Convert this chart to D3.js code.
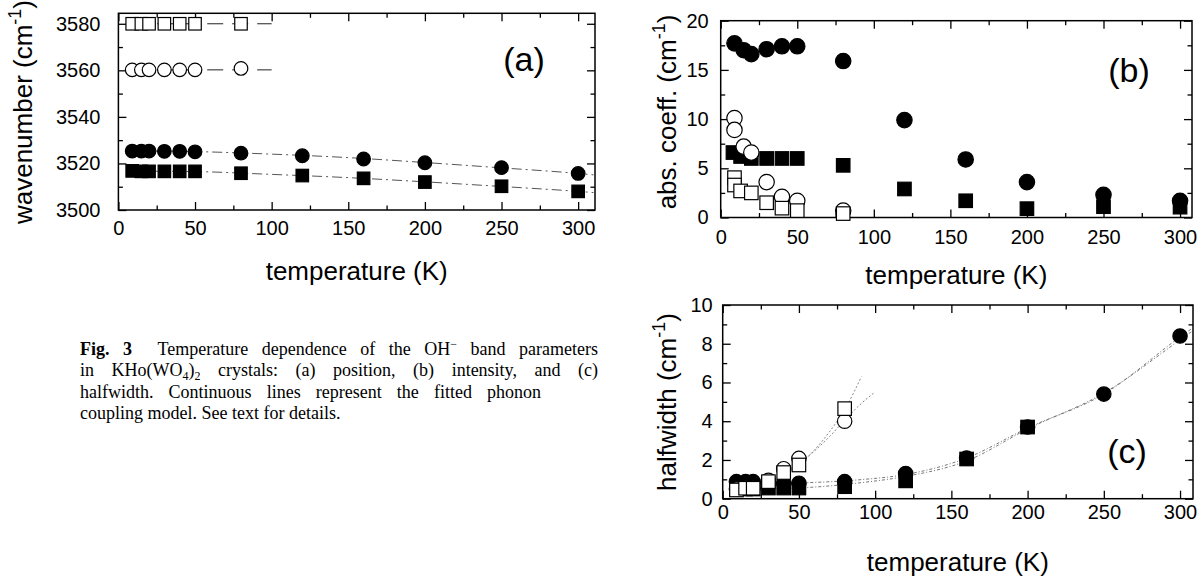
<!DOCTYPE html>
<html><head><meta charset="utf-8">
<script src="https://cdn.jsdelivr.net/npm/d3@7"></script>
<style>
body{margin:0;background:#fff}
svg{display:block}
text{font-family:"Liberation Sans",Arial,sans-serif;fill:#000}
</style>
</head><body>
<svg id="chart" width="1201" height="577"></svg>
<script>
// ---------------- DATA ----------------
const xMajorTicks = [0, 50, 100, 150, 200, 250, 300];
const xMinorTicks = [25, 75, 125, 175, 225, 275];

const aYMajorTicks = [3500, 3520, 3540, 3560, 3580];
const aYMinorTicks = [3510, 3530, 3550, 3570];
const bYMajorTicks = [0, 5, 10, 15, 20];
const bYMinorTicks = [2.5, 7.5, 12.5, 17.5];
const cYMajorTicks = [0, 2, 4, 6, 8, 10];
const cYMinorTicks = [1, 3, 5, 7, 9];

// (a) band position (cm^-1)
const aOpenT = [9, 15, 20, 30, 40, 50, 80];
const aOpenSquare = [3580, 3580, 3580, 3580, 3580, 3580, 3580];
const aOpenCircle = [3560.2, 3560.2, 3560.2, 3560.2, 3560.2, 3560.2, 3560.8];
const aFullT = [9, 15, 20, 30, 40, 50, 80, 120, 160, 200, 250, 300];
const aFullCircle = [3525.3, 3525.3, 3525.3, 3525.2, 3525.2, 3525.0, 3524.4, 3523.3, 3521.9, 3520.3, 3518.2, 3515.7];
const aFullSquare = [3516.8, 3516.6, 3516.6, 3516.6, 3516.6, 3516.6, 3515.8, 3514.8, 3513.6, 3512.0, 3510.2, 3508.0];
// (a) fitted lines
const aFitLowT = [9, 100];
const aFitOpenSquare = [3580, 3580];
const aFitOpenCircle = [3560.2, 3560.2];
const aFitHighT = [9, 50, 100, 150, 200, 250, 300, 310];
const aFitCircle = [3525.4, 3525.1, 3524.0, 3522.5, 3520.4, 3518.1, 3515.7, 3515.1];
const aFitSquare = [3516.7, 3516.5, 3515.3, 3513.9, 3512.1, 3510.1, 3508.0, 3507.5];

// (b) absorption coefficient (cm^-1)
const bFullCircleT = [9, 15, 20, 30, 40, 50, 80, 120, 160, 200, 250, 300];
const bFullCircle = [17.7, 17.0, 16.6, 17.1, 17.4, 17.4, 15.9, 9.9, 5.9, 3.6, 2.3, 1.7];
const bFullSquareT = [8, 13, 20, 30, 40, 50, 80, 120, 160, 200, 250, 300];
const bFullSquare = [6.6, 6.2, 6.0, 6.0, 6.0, 6.0, 5.3, 2.9, 1.7, 0.9, 1.1, 1.05];
const bOpenCircleT = [9, 9, 15, 20, 30, 40, 50, 80];
const bOpenCircle = [10.1, 8.9, 7.2, 6.6, 3.6, 2.1, 1.7, 0.7];
const bOpenSquareT = [9, 9, 13, 20, 30, 40, 50, 80];
const bOpenSquare = [4.05, 3.3, 2.7, 2.5, 1.5, 0.95, 0.7, 0.4];

// (c) halfwidth (cm^-1)
const cFullCircleT = [9, 15, 20, 30, 40, 50, 80, 120, 160, 200, 250, 300];
const cFullCircle = [0.88, 0.88, 0.88, 0.75, 0.8, 0.8, 0.88, 1.3, 2.1, 3.7, 5.4, 8.4];
const cFullSquareT = [9, 15, 20, 30, 40, 50, 80, 120, 160, 200];
const cFullSquare = [0.5, 0.5, 0.5, 0.55, 0.55, 0.55, 0.62, 0.92, 2.05, 3.7];
const cOpenT = [9, 15, 20, 30, 40, 50, 80];
const cOpenCircle = [0.5, 0.55, 0.55, 0.95, 1.55, 2.08, 4.0];
const cOpenSquare = [0.45, 0.54, 0.54, 0.88, 1.35, 1.74, 4.65];
// (c) fitted lines
const cFitFullT = [5, 30, 60, 90, 120, 160, 200, 250, 300, 308];
const cFitCircle = [0.78, 0.79, 0.84, 0.98, 1.25, 2.1, 3.65, 5.4, 8.35, 8.8];
const cFitSquare = [0.5, 0.52, 0.6, 0.82, 1.15, 1.95, 3.6, 5.45, 8.2, 8.65];
const cFitOpenSquareT = [5, 20, 30, 40, 50, 60, 70, 80, 91];
const cFitOpenSquare = [0.42, 0.5, 0.7, 1.15, 1.75, 2.5, 3.45, 4.6, 6.3];
const cFitOpenCircleT = [5, 20, 30, 40, 50, 60, 70, 80, 90, 99];
const cFitOpenCircle = [0.48, 0.55, 0.78, 1.25, 1.8, 2.45, 3.2, 4.05, 4.85, 5.45];

// caption (* = bold, ^x = superscript, _x = subscript)
const captionLines = [
  ["*Fig.", "*3", "Temperature", "dependence", "of", "the", "OH^−", "band", "parameters"],
  ["in", "KHo(WO_4)_2", "crystals:", "(a)", "position,", "(b)", "intensity,", "and", "(c)"],
  ["halfwidth.", "Continuous", "lines", "represent", "the", "fitted", "phonon"],
  ["coupling", "model.", "See", "text", "for", "details."]
];
const captionLineEnd = [598, 598, 541, null];

// ---------------- DRAWING ----------------
const svg = d3.select("#chart");
const zip = (xs, ys) => xs.map((x, i) => [x, ys[i]]);

function drawPanel(cfg) {
  const g = svg.append("g");
  const x = d3.scaleLinear().domain(cfg.xDomain).range([cfg.left, cfg.right]);
  const y = d3.scaleLinear().domain(cfg.yDomain).range([cfg.bottom, cfg.top]);
  const tickFont = g => g.selectAll("text").style("font-size", "20px").style("font-family", '"Liberation Sans",Arial,sans-serif').attr("fill", "#000");
  const clean = s => { s.select(".domain").remove(); s.selectAll("line").attr("stroke", "#000").attr("stroke-width", 1.3); };

  g.append("g").attr("transform", `translate(0,${cfg.bottom})`)
    .call(d3.axisBottom(x).tickValues(xMajorTicks).tickSize(-8).tickPadding(cfg.xPad).tickFormat(d3.format("d")))
    .call(clean).call(tickFont);
  g.append("g").attr("transform", `translate(0,${cfg.bottom})`)
    .call(d3.axisBottom(x).tickValues(xMinorTicks).tickSize(-4.5).tickFormat("")).call(clean);
  g.append("g").attr("transform", `translate(0,${cfg.top})`)
    .call(d3.axisTop(x).tickValues(xMajorTicks).tickSize(-8).tickFormat("")).call(clean);
  g.append("g").attr("transform", `translate(0,${cfg.top})`)
    .call(d3.axisTop(x).tickValues(xMinorTicks).tickSize(-4.5).tickFormat("")).call(clean);
  g.append("g").attr("transform", `translate(${cfg.left},0)`)
    .call(d3.axisLeft(y).tickValues(cfg.yMajor).tickSize(-8).tickPadding(cfg.yPad).tickFormat(d3.format("d")))
    .call(clean).call(tickFont);
  g.append("g").attr("transform", `translate(${cfg.left},0)`)
    .call(d3.axisLeft(y).tickValues(cfg.yMinor).tickSize(-4.5).tickFormat("")).call(clean);
  g.append("g").attr("transform", `translate(${cfg.right},0)`)
    .call(d3.axisRight(y).tickValues(cfg.yMajor).tickSize(-8).tickFormat("")).call(clean);
  g.append("g").attr("transform", `translate(${cfg.right},0)`)
    .call(d3.axisRight(y).tickValues(cfg.yMinor).tickSize(-4.5).tickFormat("")).call(clean);

  g.append("rect").attr("x", cfg.left).attr("y", cfg.top)
    .attr("width", cfg.right - cfg.left).attr("height", cfg.bottom - cfg.top)
    .attr("fill", "none").attr("stroke", "#000").attr("stroke-width", 1.5);

  const line = d3.line().x(d => x(d[0])).y(d => y(d[1])).curve(d3.curveMonotoneX);
  (cfg.fits || []).forEach(f => {
    g.append("path").attr("d", line(zip(f.t, f.v)))
      .attr("fill", "none").attr("stroke", f.color).attr("stroke-width", f.width || 1)
      .attr("stroke-dasharray", f.dash);
  });

  (cfg.series || []).forEach(s => {
    const pts = zip(s.t, s.v);
    const fill = s.filled ? "#000" : "#fff";
    if (s.shape === "circle") {
      g.append("g").selectAll("circle").data(pts).join("circle")
        .attr("cx", d => x(d[0])).attr("cy", d => y(d[1])).attr("r", cfg.r)
        .attr("fill", fill).attr("stroke", "#000").attr("stroke-width", 1.2);
    } else {
      const a = cfg.sq;
      g.append("g").selectAll("rect").data(pts).join("rect")
        .attr("x", d => x(d[0]) - a / 2).attr("y", d => y(d[1]) - a / 2)
        .attr("width", a).attr("height", a)
        .attr("fill", fill).attr("stroke", "#000").attr("stroke-width", 1.2);
    }
  });

  g.append("text").attr("x", (cfg.left + cfg.right) / 2).attr("y", cfg.xTitleY)
    .attr("text-anchor", "middle").style("font-size", "26px").text("temperature (K)");
  const yt = g.append("text")
    .attr("transform", `translate(${cfg.yTitleX},${cfg.yTitleY}) rotate(-90)`)
    .attr("text-anchor", "middle").style("font-size", "26px");
  yt.append("tspan").text(cfg.yTitle + " (cm");
  yt.append("tspan").attr("dy", -11).style("font-size", "18px").text("-1");
  yt.append("tspan").attr("dy", 11).text(")");

  g.append("text").attr("x", cfg.labelX).attr("y", cfg.labelY)
    .attr("text-anchor", "middle").style("font-size", "34px").text(cfg.label);
}

drawPanel({
  left: 118.4, right: 595, top: 13.3, bottom: 210,
  xDomain: [0, 311], yDomain: [3500, 3584.5],
  yMajor: aYMajorTicks, yMinor: aYMinorTicks, xPad: 11, yPad: 18,
  r: 6.8, sq: 12.5,
  xTitleY: 280, yTitleX: 32, yTitleY: 112, yTitle: "wavenumber",
  label: "(a)", labelX: 524, labelY: 71,
  fits: [
    { t: aFitLowT, v: aFitOpenSquare, color: "#222", dash: "16,9" },
    { t: aFitLowT, v: aFitOpenCircle, color: "#222", dash: "16,9" },
    { t: aFitHighT, v: aFitCircle, color: "#555", dash: "10,4,2,4" },
    { t: aFitHighT, v: aFitSquare, color: "#555", dash: "10,4,2,4" }
  ],
  series: [
    { t: aFullT, v: aFullCircle, shape: "circle", filled: true },
    { t: aFullT, v: aFullSquare, shape: "square", filled: true },
    { t: aOpenT, v: aOpenCircle, shape: "circle", filled: false },
    { t: aOpenT, v: aOpenSquare, shape: "square", filled: false }
  ]
});

drawPanel({
  left: 720.7, right: 1192, top: 20.7, bottom: 217.5,
  xDomain: [0, 307.8], yDomain: [0, 20],
  yMajor: bYMajorTicks, yMinor: bYMinorTicks, xPad: 12, yPad: 12,
  r: 7.7, sq: 13.5,
  xTitleY: 284, yTitleX: 676, yTitleY: 112, yTitle: "abs. coeff.",
  label: "(b)", labelX: 1129, labelY: 82,
  series: [
    { t: bFullSquareT, v: bFullSquare, shape: "square", filled: true },
    { t: bFullCircleT, v: bFullCircle, shape: "circle", filled: true },
    { t: bOpenCircleT, v: bOpenCircle, shape: "circle", filled: false },
    { t: bOpenSquareT, v: bOpenSquare, shape: "square", filled: false }
  ]
});

drawPanel({
  left: 722.7, right: 1193, top: 305, bottom: 498.7,
  xDomain: [0, 308.5], yDomain: [0, 10],
  yMajor: cYMajorTicks, yMinor: cYMinorTicks, xPad: 6, yPad: 10,
  r: 7.2, sq: 13.5,
  xTitleY: 571, yTitleX: 676, yTitleY: 402, yTitle: "halfwidth",
  label: "(c)", labelX: 1127, labelY: 463,
  fits: [
    { t: cFitFullT, v: cFitCircle, color: "#777", dash: "3,2,1,2" },
    { t: cFitFullT, v: cFitSquare, color: "#777", dash: "3,2,1,2" },
    { t: cFitOpenSquareT, v: cFitOpenSquare, color: "#888", dash: "2,2" },
    { t: cFitOpenCircleT, v: cFitOpenCircle, color: "#888", dash: "2,2" }
  ],
  series: [
    { t: cFullCircleT, v: cFullCircle, shape: "circle", filled: true },
    { t: cFullSquareT, v: cFullSquare, shape: "square", filled: true },
    { t: cOpenT, v: cOpenCircle, shape: "circle", filled: false },
    { t: cOpenT, v: cOpenSquare, shape: "square", filled: false }
  ]
});

// caption
(function caption() {
  const cg = svg.append("g");
  const left = 80, y0 = 355, lh = 21.3;
  captionLines.forEach((words, li) => {
    const nodes = words.map(w => {
      const bold = w.startsWith("*");
      const str = bold ? w.slice(1) : w;
      const t = cg.append("text").attr("y", y0 + li * lh)
        .style("font-family", '"Liberation Serif","Times New Roman",serif')
        .style("font-size", "18px").style("font-weight", bold ? "bold" : "normal");
      let buf = "", shift = 0, i = 0;
      while (i < str.length) {
        const ch = str[i];
        if (ch === "^" || ch === "_") {
          if (buf) { t.append("tspan").attr("dy", -shift).text(buf); shift = 0; buf = ""; }
          const d = ch === "^" ? -7 : 4;
          t.append("tspan").attr("dy", d - shift).style("font-size", "12px").text(str[i + 1]);
          shift = d; i += 2;
        } else { buf += ch; i++; }
      }
      if (buf) { t.append("tspan").attr("dy", -shift).text(buf); shift = 0; }
      return { t, w: t.node().getComputedTextLength() };
    });
    const extraFirst = li === 0 ? 12 : 0;
    const total = d3.sum(nodes, n => n.w) + extraFirst;
    const gaps = nodes.length - 1;
    const end = captionLineEnd[li];
    const gap = end ? (end - left - total) / gaps : 4.5;
    let xx = left;
    nodes.forEach((n, i) => {
      n.t.attr("x", xx);
      n.t.selectAll("tspan").filter((d, k) => k === 0).attr("x", xx);
      xx += n.w + gap + (li === 0 && i === 1 ? extraFirst : 0);
    });
  });
})();
</script>
</body></html>
